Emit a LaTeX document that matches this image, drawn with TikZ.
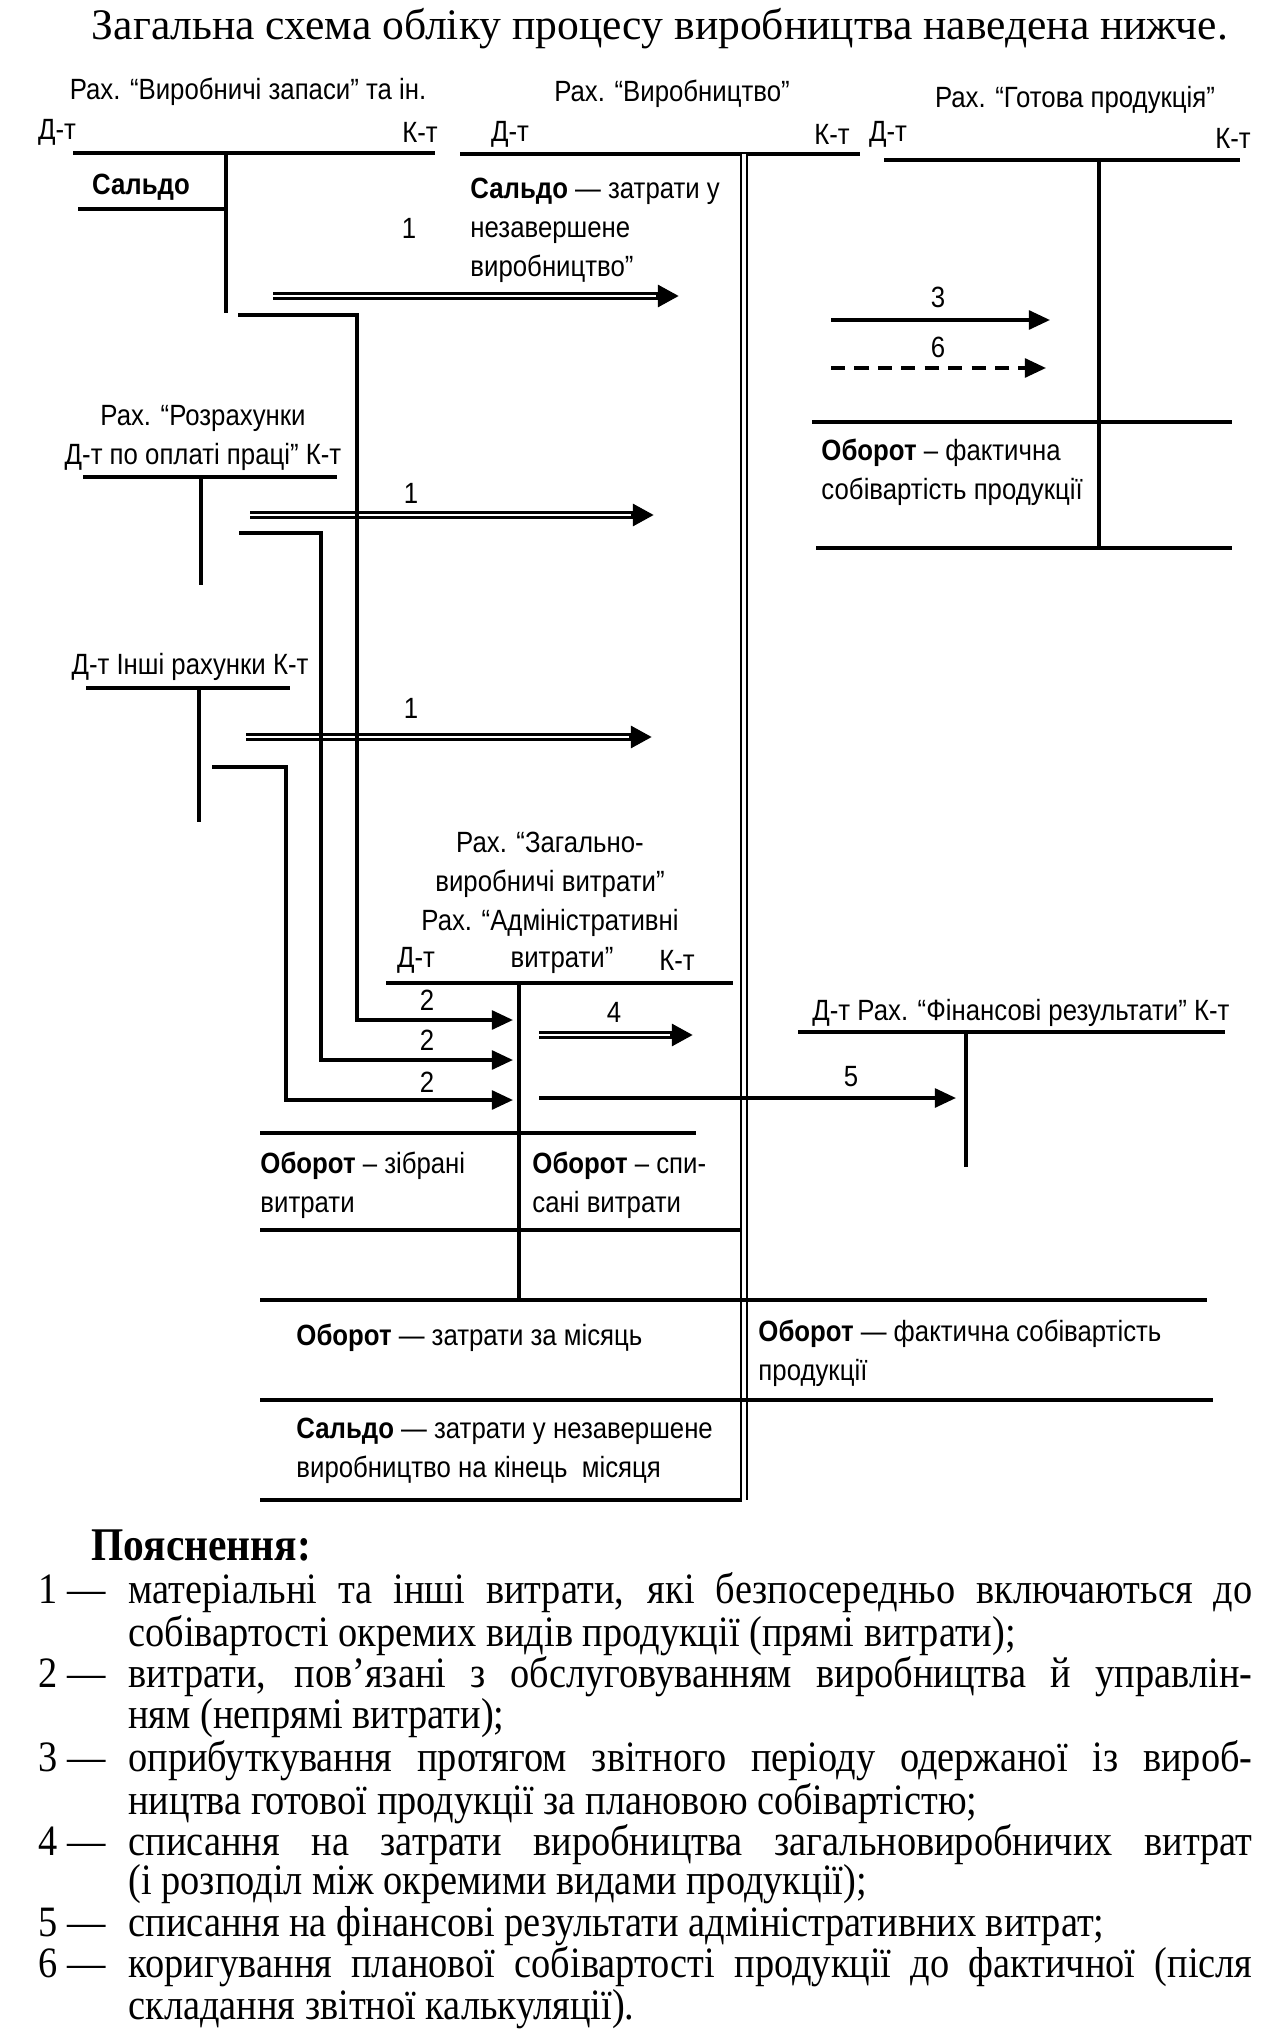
\documentclass[tikz,border=0pt]{standalone}
\usepackage{fontspec}
\setmainfont{Liberation Serif}
\newfontfamily\dgfont[FakeStretch=0.88]{Liberation Sans}
\newfontfamily\legfont[FakeStretch=0.885]{Liberation Serif}
\usetikzlibrary{arrows.meta}

\begin{document}
\begin{tikzpicture}[
  x=0.015cm, y=-0.015cm,
  lbl/.style={font=\dgfont\fontsize{12.5}{16.6}\selectfont, inner sep=0pt, align=center},
  txt/.style={lbl, anchor=west, align=left},
  acc/.style={line width=1.6pt},
  tee/.style={line width=1.3pt},
  arr/.style={line width=1.5pt, -{Triangle[length=9pt,width=8pt]}},
  dbl/.style={line width=3.2pt, -{Triangle[length=9pt,width=9pt]}},
  gap/.style={white, line width=1pt, shorten >=10pt},
  leg/.style={font=\legfont\fontsize{18.5}{16.8}\selectfont, inner sep=0pt, anchor=west,
              text width=18.21cm, align=justify},
  num/.style={leg, execute at begin node={\hangindent=1.35cm\hangafter=1}}
]
\useasboundingbox (0,0) rectangle (1260,2036);

\node[font=\fontsize{18.6}{22}\selectfont, inner sep=0pt] (title) at (660,29)
  {Загальна схема обліку процесу виробництва наведена нижче.};

% --- account headers
\node[lbl] (matHead) at (248,92) {Рах. “Виробничі запаси” та ін.};
\node[lbl] (matDt) at (57,132) {Д-т};
\node[lbl] (matKt) at (420,132) {К-т};
\node[lbl] (matSaldo) at (141,187) {\textbf{Сальдо}};

\node[lbl] (prodHead) at (672,94) {Рах. “Виробництво”};
\node[lbl] (prodDt) at (510,134) {Д-т};
\node[lbl] (prodKt) at (832,134) {К-т};
\node[txt] (prodSaldo) at (470,230) {\textbf{Сальдо} — затрати у\\незавершене\\виробництво”};

\node[lbl] (gotHead) at (1075,100) {Рах. “Готова продукція”};
\node[lbl] (gotDt) at (888,134) {Д-т};
\node[lbl] (gotKt) at (1233,138) {К-т};
\node[txt] (gotObor) at (821,472) {\textbf{Оборот} – фактична\\собівартість продукції};

\node[lbl] (payHead) at (203,438) {Рах. “Розрахунки\\Д-т по оплаті праці” К-т};
\node[lbl] (othHead) at (190,667) {Д-т Інші рахунки К-т};

\node[lbl] (govHead) at (550,884) {Рах. “Загально-\\виробничі витрати”\\Рах. “Адміністративні};
\node[lbl] (govDt) at (416,960) {Д-т};
\node[lbl] (govMid) at (562,960) {витрати”};
\node[lbl] (govKt) at (677,960) {К-т};
\node[txt] (govObor1) at (260,1185) {\textbf{Оборот} – зібрані\\витрати};
\node[txt] (govObor2) at (532,1185) {\textbf{Оборот} – спи-\\сані витрати};

\node[lbl] (finHead) at (1021,1013) {Д-т Рах. “Фінансові результати” К-т};

\node[txt] (prodObor) at (296,1338) {\textbf{Оборот} — затрати за місяць};
\node[txt] (prodFakt) at (758,1353) {\textbf{Оборот} — фактична собівартість\\продукції};
\node[txt] (prodEnd) at (296,1451) {\textbf{Сальдо} — затрати у незавершене\\виробництво на кінець~~місяця};

% --- T-accounts
\draw[acc] (73,153) -- (435,153);
\draw[tee] (226,153) -- (226,313);
\draw[acc] (78,209) -- (226,209);
\draw[acc] (460,154) -- (860,154);
\draw[line width=1pt, double distance=1.8pt] (744,154) -- (744,1500);
\draw[acc] (884,160) -- (1240,160);
\draw[tee] (1099,160) -- (1099,548);
\draw[acc] (812,422) -- (1232,422);
\draw[acc] (816,548) -- (1232,548);
\draw[acc] (83,477) -- (337,477);
\draw[tee] (201,477) -- (201,585);
\draw[acc] (86,688) -- (290,688);
\draw[tee] (199,688) -- (199,822);
\draw[acc] (386,983) -- (733,983);
\draw[tee] (519,983) -- (519,1300);
\draw[acc] (260,1133) -- (696,1133);
\draw[acc] (260,1230) -- (741,1230);
\draw[acc] (798,1032) -- (1225,1032);
\draw[tee] (966,1032) -- (966,1167);
\draw[acc] (260,1300) -- (1207,1300);
\draw[acc] (260,1400) -- (1213,1400);
\draw[acc] (260,1500) -- (742,1500);

% --- arrow ends
\coordinate (a1s) at (273,296);  \coordinate (a1e) at (679,296);
\coordinate (b1s) at (250,515);  \coordinate (b1e) at (654,515);
\coordinate (c1s) at (246,737);  \coordinate (c1e) at (652,737);
\coordinate (m2) at (238,315);   \coordinate (m2c) at (357,1020);  \coordinate (g1) at (513,1020);
\coordinate (p2) at (239,533);   \coordinate (p2c) at (321,1060);  \coordinate (g2) at (513,1060);
\coordinate (o2) at (212,767);   \coordinate (o2c) at (286,1100);  \coordinate (g3) at (513,1100);
\coordinate (s3) at (831,320);   \coordinate (e3) at (1050,320);
\coordinate (s6) at (831,368);   \coordinate (e6) at (1046,368);
\coordinate (s4) at (539,1035);  \coordinate (e4) at (693,1035);
\coordinate (s5) at (539,1098);  \coordinate (e5) at (956,1098);

\draw[dbl] (a1s) -- (a1e);  \draw[gap] (a1s) -- (a1e);
\draw[dbl] (b1s) -- (b1e);  \draw[gap] (b1s) -- (b1e);
\draw[dbl] (c1s) -- (c1e);  \draw[gap] (c1s) -- (c1e);
\draw[dbl] (s4) -- (e4);    \draw[gap] (s4) -- (e4);

\draw[arr] (m2) -| (m2c) -- (g1);
\draw[arr] (p2) -| (p2c) -- (g2);
\draw[arr] (o2) -| (o2c) -- (g3);
\draw[arr] (s3) -- (e3);
\draw[arr, dash pattern=on 6pt off 4pt] (s6) -- (e6);
\draw[arr] (s5) -- (e5);

\node[lbl] (n1a) at (409,228) {1};
\node[lbl] (n1b) at (411,493) {1};
\node[lbl] (n1c) at (411,708) {1};
\node[lbl] (n2a) at (427,1000) {2};
\node[lbl] (n2b) at (427,1040) {2};
\node[lbl] (n2c) at (427,1082) {2};
\node[lbl] (n3) at (938,297) {3};
\node[lbl] (n6) at (938,347) {6};
\node[lbl] (n4) at (614,1012) {4};
\node[lbl] (n5) at (851,1077) {5};

% --- legend
\node[font=\legfont\fontsize{20}{22}\selectfont\bfseries, inner sep=0pt, anchor=west] (legHead) at (91,1545) {Пояснення:};
\node[num] (t1) at (38,1614) {\makebox[1.35cm][l]{1~—}матеріальні та інші витрати, які безпосередньо включаються до\linebreak собівартості окремих видів продукції (прямі витрати);};
\node[num] (t2) at (38,1697) {\makebox[1.35cm][l]{2~—}витрати, пов’язані з обслуговуванням виробництва й управлін-\linebreak ням (непрямі витрати);};
\node[num] (t3) at (38,1782) {\makebox[1.35cm][l]{3~—}оприбуткування протягом звітного періоду одержаної із вироб-\linebreak ництва готової продукції за плановою собівартістю;};
\node[num] (t4) at (38,1864) {\makebox[1.35cm][l]{4~—}списання на затрати виробництва загальновиробничих витрат\linebreak (і розподіл між окремими видами продукції);};
\node[num] (t5) at (38,1926) {\makebox[1.35cm][l]{5~—}списання на фінансові результати адміністративних витрат;};
\node[num] (t6) at (38,1988) {\makebox[1.35cm][l]{6~—}коригування планової собівартості продукції до фактичної (після\linebreak складання звітної калькуляції).};
\end{tikzpicture}
\end{document}
